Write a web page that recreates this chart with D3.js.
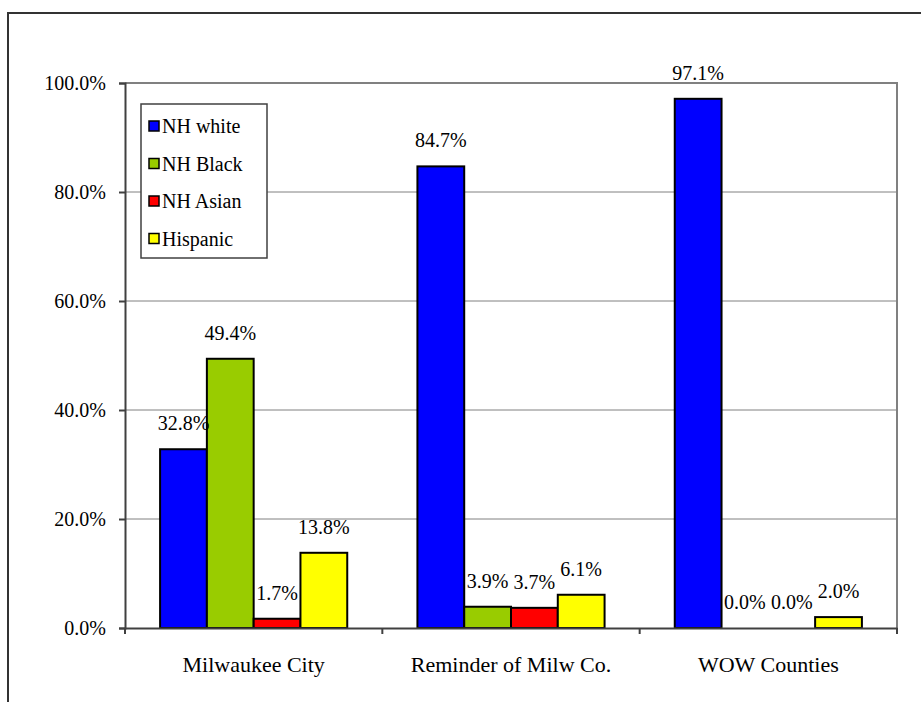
<!DOCTYPE html>
<html>
<head>
<meta charset="utf-8">
<script src="https://cdn.jsdelivr.net/npm/d3@7"></script>
<style>
	body { margin: 0; background: #fff; }
</style>
</head>
<body>
<div id="chart"></div>
<script>
// chart data
var categories = ["Milwaukee City", "Reminder of Milw Co.", "WOW Counties"];
var series_names = ["NH white", "NH Black", "NH Asian", "Hispanic"];
var series_colors = ["#0000FF", "#99CC00", "#FF0000", "#FFFF00"];
var nh_white = [32.8, 84.7, 97.1];
var nh_black = [49.4, 3.9, 0.0];
var nh_asian = [1.7, 3.7, 0.0];
var hispanic = [13.8, 6.1, 2.0];
var y_ticks = [0, 20, 40, 60, 80, 100];

var series_values = [nh_white, nh_black, nh_asian, hispanic];

var width = 921, height = 702;
var plot = {left: 125, right: 897, top: 83, bottom: 628};
var font = "'Liberation Serif', 'Times New Roman', Times, serif";
var font_size = "20px";

var svg = d3.select("#chart").append("svg")
	.attr("width", width)
	.attr("height", height)
	.attr("font-family", font);

//outer chart border, runs off the page at right and bottom
svg.append("rect")
	.attr("x", 8).attr("y", 13)
	.attr("width", 1000).attr("height", 1000)
	.attr("fill", "none")
	.attr("stroke", "#333")
	.attr("stroke-width", 2);

var x = d3.scaleBand()
	.domain(categories)
	.range([plot.left, plot.right])
	.paddingInner(0)
	.paddingOuter(0);

var y = d3.scaleLinear()
	.domain([0, 100])
	.range([plot.bottom, plot.top]);

//bars take 4 of 5.5 parts of each category (gap width 150%)
var bar_w = x.bandwidth() / 5.5;
var x_inner = d3.scaleBand()
	.domain(series_names)
	.range([bar_w * 0.75, bar_w * 4.75]);

//gridlines
svg.append("g")
	.selectAll("line")
	.data(y_ticks.filter(function(d){ return d > 0 && d < 100; }))
	.enter().append("line")
		.attr("x1", plot.left).attr("x2", plot.right)
		.attr("y1", function(d){ return y(d); })
		.attr("y2", function(d){ return y(d); })
		.attr("stroke", "#808080")
		.attr("stroke-width", 1);

//plot area border (top and right)
svg.append("path")
	.attr("d", "M" + plot.left + "," + plot.top + "H" + plot.right + "V" + plot.bottom)
	.attr("fill", "none")
	.attr("stroke", "#808080")
	.attr("stroke-width", 2);

//bars
var rows = [];
categories.forEach(function(c, ci)
	{
		series_names.forEach(function(s, si)
			{
				rows.push({cat: c, series: s, color: series_colors[si], value: series_values[si][ci]});
			}
		);
	}
);

svg.append("g")
	.selectAll("rect")
	.data(rows.filter(function(d){ return d.value > 0; }))
	.enter().append("rect")
		.attr("x", function(d){ return x(d.cat) + x_inner(d.series); })
		.attr("y", function(d){ return y(d.value); })
		.attr("width", x_inner.bandwidth())
		.attr("height", function(d){ return y(0) - y(d.value); })
		.attr("fill", function(d){ return d.color; })
		.attr("stroke", "#000")
		.attr("stroke-width", 2);

//value labels
svg.append("g")
	.selectAll("text")
	.data(rows)
	.enter().append("text")
		.attr("x", function(d){ return x(d.cat) + x_inner(d.series) + x_inner.bandwidth() / 2; })
		.attr("y", function(d){ return y(d.value) - 19; })
		.attr("text-anchor", "middle")
		.style("font-family", font)
		.style("font-size", font_size)
		.text(function(d){ return d.value.toFixed(1) + "%"; });

//axes
var y_axis = d3.axisLeft(y)
	.tickValues(y_ticks)
	.tickSize(6)
	.tickPadding(13)
	.tickFormat(function(d){ return d.toFixed(1) + "%"; });

var gy = svg.append("g")
	.attr("transform", "translate(" + plot.left + ",0)")
	.call(y_axis);
gy.attr("font-family", null).attr("font-size", null);
gy.selectAll("text").style("font-family", font).style("font-size", font_size).attr("fill", "#000");
gy.selectAll("line, path").attr("stroke", "#404040").attr("stroke-width", 2);

var x_axis = d3.axisBottom(x)
	.tickSize(0)
	.tickPadding(28);

var gx = svg.append("g")
	.attr("transform", "translate(0," + plot.bottom + ")")
	.call(x_axis);
gx.attr("font-family", null).attr("font-size", null);
gx.select(".domain").attr("stroke", "#404040").attr("stroke-width", 2);
gx.selectAll("text").style("font-family", font).style("font-size", "22px").attr("fill", "#000");

//category divider ticks
gx.append("g")
	.selectAll("line")
	.data(categories.concat(["end"]))
	.enter().append("line")
		.attr("x1", function(d, i){ return plot.left + i * x.bandwidth(); })
		.attr("x2", function(d, i){ return plot.left + i * x.bandwidth(); })
		.attr("y1", 0).attr("y2", 6)
		.attr("stroke", "#404040")
		.attr("stroke-width", 2);

//legend
var legend = svg.append("g")
	.attr("transform", "translate(141,104)");

legend.append("rect")
	.attr("width", 126).attr("height", 154)
	.attr("fill", "#fff")
	.attr("stroke", "#404040")
	.attr("stroke-width", 1.5);

var items = legend.selectAll(".item")
	.data(series_names)
	.enter().append("g")
		.attr("class", "item")
		.attr("transform", function(d, i){ return "translate(8," + (22 + i * 37.5) + ")"; });

items.append("rect")
	.attr("x", 0).attr("y", -5)
	.attr("width", 10).attr("height", 10)
	.attr("fill", function(d, i){ return series_colors[i]; })
	.attr("stroke", "#000")
	.attr("stroke-width", 1.5);

items.append("text")
	.attr("x", 13)
	.attr("dy", "0.35em")
	.style("font-family", font)
	.style("font-size", font_size)
	.text(function(d){ return d; });
</script>
</body>
</html>
